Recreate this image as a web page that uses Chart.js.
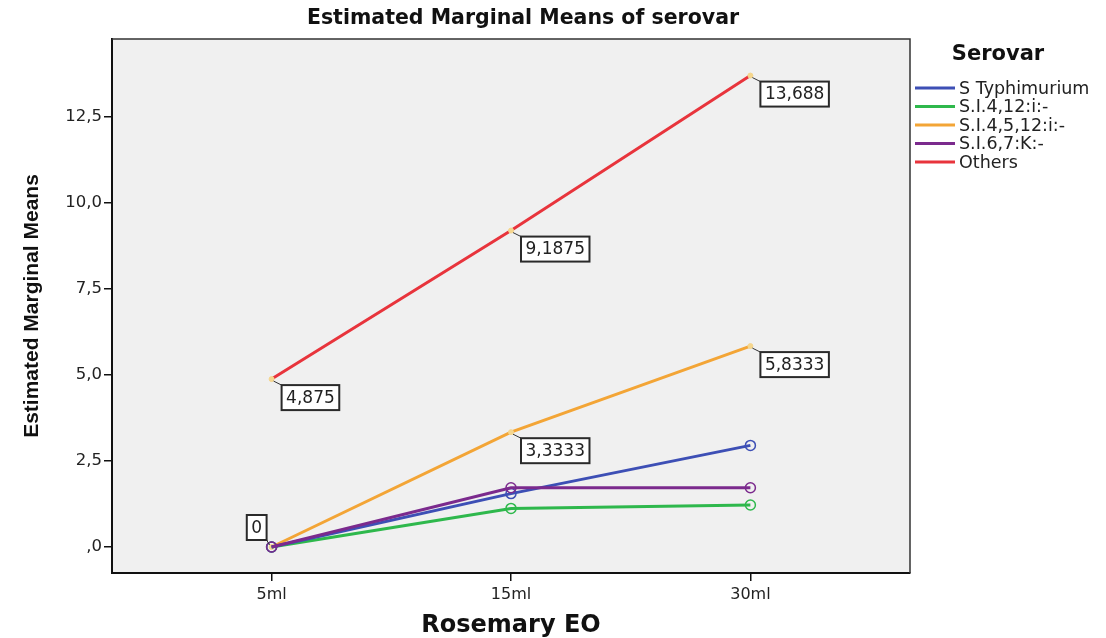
<!DOCTYPE html>
<html><head><meta charset="utf-8">
<script src="https://cdn.jsdelivr.net/npm/chart.js@4/dist/chart.umd.min.js"></script>
<style>html,body{margin:0;padding:0;background:#fff;}</style>
</head><body>
<canvas id="c" width="1106" height="638"></canvas>
<script>
// ---- data ----
const categories = ['5ml', '15ml', '30ml'];
const seriesNames = ['S Typhimurium', 'S.I.4,12:i:-', 'S.I.4,5,12:i:-', 'S.I.6,7:K:-', 'Others'];
const sTyphimurium = [0, 1.55, 2.95];
const sI4_12 = [0, 1.12, 1.22];
const sI4_5_12 = [0, 3.3333, 5.8333];
const sI6_7 = [0, 1.72, 1.72];
const others = [4.875, 9.1875, 13.688];
const yTickValues = [0, 2.5, 5, 7.5, 10, 12.5];
const yTickLabels = [',0', '2,5', '5,0', '7,5', '10,0', '12,5'];
const labelledSeries = ['S.I.4,5,12:i:-', 'Others'];
const chartTitle = 'Estimated Marginal Means of serovar';
const legendTitle = 'Serovar';
const xTitle = 'Rosemary EO';
const yTitle = 'Estimated Marginal Means';

const seriesValues = [sTyphimurium, sI4_12, sI4_5_12, sI6_7, others];
const colors = ['#3d4fb5', '#2eb84c', '#f3a536', '#7b2a8d', '#e8343c'];
const drawOrder = [1, 2, 3, 0, 4];
const circleMarker = [true, true, false, true, false];

const datasets = seriesNames.map((name, k) => ({
  label: name,
  data: seriesValues[k].map((v, i) => ({x: i, y: v})),
  borderColor: colors[k],
  backgroundColor: colors[k],
  borderWidth: 3,
  tension: 0,
  order: drawOrder[k],
  pointRadius: circleMarker[k] ? 5 : 2.5,
  pointBorderWidth: circleMarker[k] ? 1.5 : 1,
  pointBorderColor: circleMarker[k] ? colors[k] : '#f5d68e',
  pointBackgroundColor: circleMarker[k] ? 'rgba(0,0,0,0)' : '#f5d68e'
}));

const fmt = v => String(v).replace('.', ',');

const decor = {
  id: 'decor',
  beforeDraw(chart) {
    const {ctx, chartArea: a} = chart;
    ctx.save();
    ctx.fillStyle = '#f0f0f0';
    ctx.fillRect(a.left, a.top, a.right - a.left, a.bottom - a.top);
    ctx.restore();
  },
  afterDatasetsDraw(chart) {
    const {ctx} = chart;
    ctx.save();
    ctx.font = '17px "DejaVu Sans"';
    chart.data.datasets.forEach((ds, di) => {
      if (!labelledSeries.includes(ds.label)) return;
      const meta = chart.getDatasetMeta(di);
      ds.data.forEach((d, i) => {
        const p = meta.data[i];
        const txt = fmt(d.y);
        const w = ctx.measureText(txt).width + 9;
        const h = 25;
        let bx, by, cx, cy;
        if (d.y === 0) { bx = p.x - 5 - w; by = p.y - 7 - h; cx = bx + w; cy = by + h; }
        else { bx = p.x + 10; by = p.y + 6; cx = bx; cy = by; }
        ctx.strokeStyle = '#333'; ctx.lineWidth = 1;
        ctx.beginPath(); ctx.moveTo(p.x + (d.y === 0 ? -2 : 2), p.y + (d.y === 0 ? -2 : 2)); ctx.lineTo(cx, cy); ctx.stroke();
        ctx.fillStyle = '#fff';
        ctx.fillRect(bx, by, w, h);
        ctx.lineWidth = 2; ctx.strokeStyle = '#2a2a2a';
        ctx.strokeRect(bx, by, w, h);
        ctx.fillStyle = '#222'; ctx.textAlign = 'center'; ctx.textBaseline = 'middle';
        ctx.fillText(txt, bx + w / 2, by + h / 2 + 1);
      });
    });
    ctx.restore();
  },
  afterDraw(chart) {
    const {ctx, chartArea: a} = chart;
    ctx.save();
    // top & right frame
    ctx.strokeStyle = '#333'; ctx.lineWidth = 1.5;
    ctx.beginPath(); ctx.moveTo(a.left, a.top); ctx.lineTo(a.right, a.top); ctx.lineTo(a.right, a.bottom); ctx.stroke();
    // title
    ctx.fillStyle = '#111'; ctx.textAlign = 'center'; ctx.textBaseline = 'middle';
    ctx.font = 'bold 20.5px "DejaVu Sans"';
    ctx.fillText(chartTitle, 523, 19);
    // legend
    ctx.font = 'bold 21px "DejaVu Sans"';
    ctx.fillText(legendTitle, 998, 55);
    ctx.font = '17.5px "DejaVu Sans"';
    ctx.textAlign = 'left';
    chart.data.datasets.forEach((ds, i) => {
      const y = 88 + 18.5 * i;
      ctx.strokeStyle = ds.borderColor; ctx.lineWidth = 3;
      ctx.beginPath(); ctx.moveTo(915, y); ctx.lineTo(955, y); ctx.stroke();
      ctx.fillStyle = '#222';
      ctx.fillText(ds.label, 959, y + 1);
    });
    ctx.restore();
  }
};

new Chart(document.getElementById('c'), {
  type: 'line',
  data: {datasets},
  options: {
    responsive: false,
    animation: false,
    layout: {padding: {top: 39, right: 196, left: 0, bottom: 0}},
    plugins: {legend: {display: false}, tooltip: {enabled: false}, title: {display: false}},
    scales: {
      x: {
        type: 'linear', min: -2 / 3, max: 8 / 3,
        afterBuildTicks: s => { s.ticks = categories.map((c, i) => ({value: i})); },
        afterFit: s => { s.height = 65; },
        ticks: {callback: (v, i) => categories[i], color: '#222', font: {family: 'DejaVu Sans', size: 16}, padding: 4, maxRotation: 0, autoSkip: false},
        grid: {drawOnChartArea: false, drawTicks: true, tickLength: 8, color: '#111', lineWidth: 1.5},
        border: {display: true, color: '#111', width: 2},
        title: {display: true, text: xTitle, color: '#111', font: {family: 'DejaVu Sans', weight: 'bold', size: 24, lineHeight: 1}, padding: {top: 0, bottom: 0}}
      },
      y: {
        type: 'linear', min: -0.755, max: 14.75,
        afterBuildTicks: s => { s.ticks = yTickValues.map(v => ({value: v})); },
        afterFit: s => { s.width = 112; },
        ticks: {callback: (v, i) => yTickLabels[i], color: '#222', font: {family: 'DejaVu Sans', size: 16.5}, padding: 2},
        grid: {drawOnChartArea: false, drawTicks: true, tickLength: 8, color: '#111', lineWidth: 1.5},
        border: {display: true, color: '#111', width: 2},
        title: {display: true, text: yTitle, color: '#111', font: {family: "'Liberation Sans',Arial", weight: 'bold', size: 21}, padding: {top: 20, bottom: 0}}
      }
    }
  },
  plugins: [decor]
});
</script>
</body></html>
